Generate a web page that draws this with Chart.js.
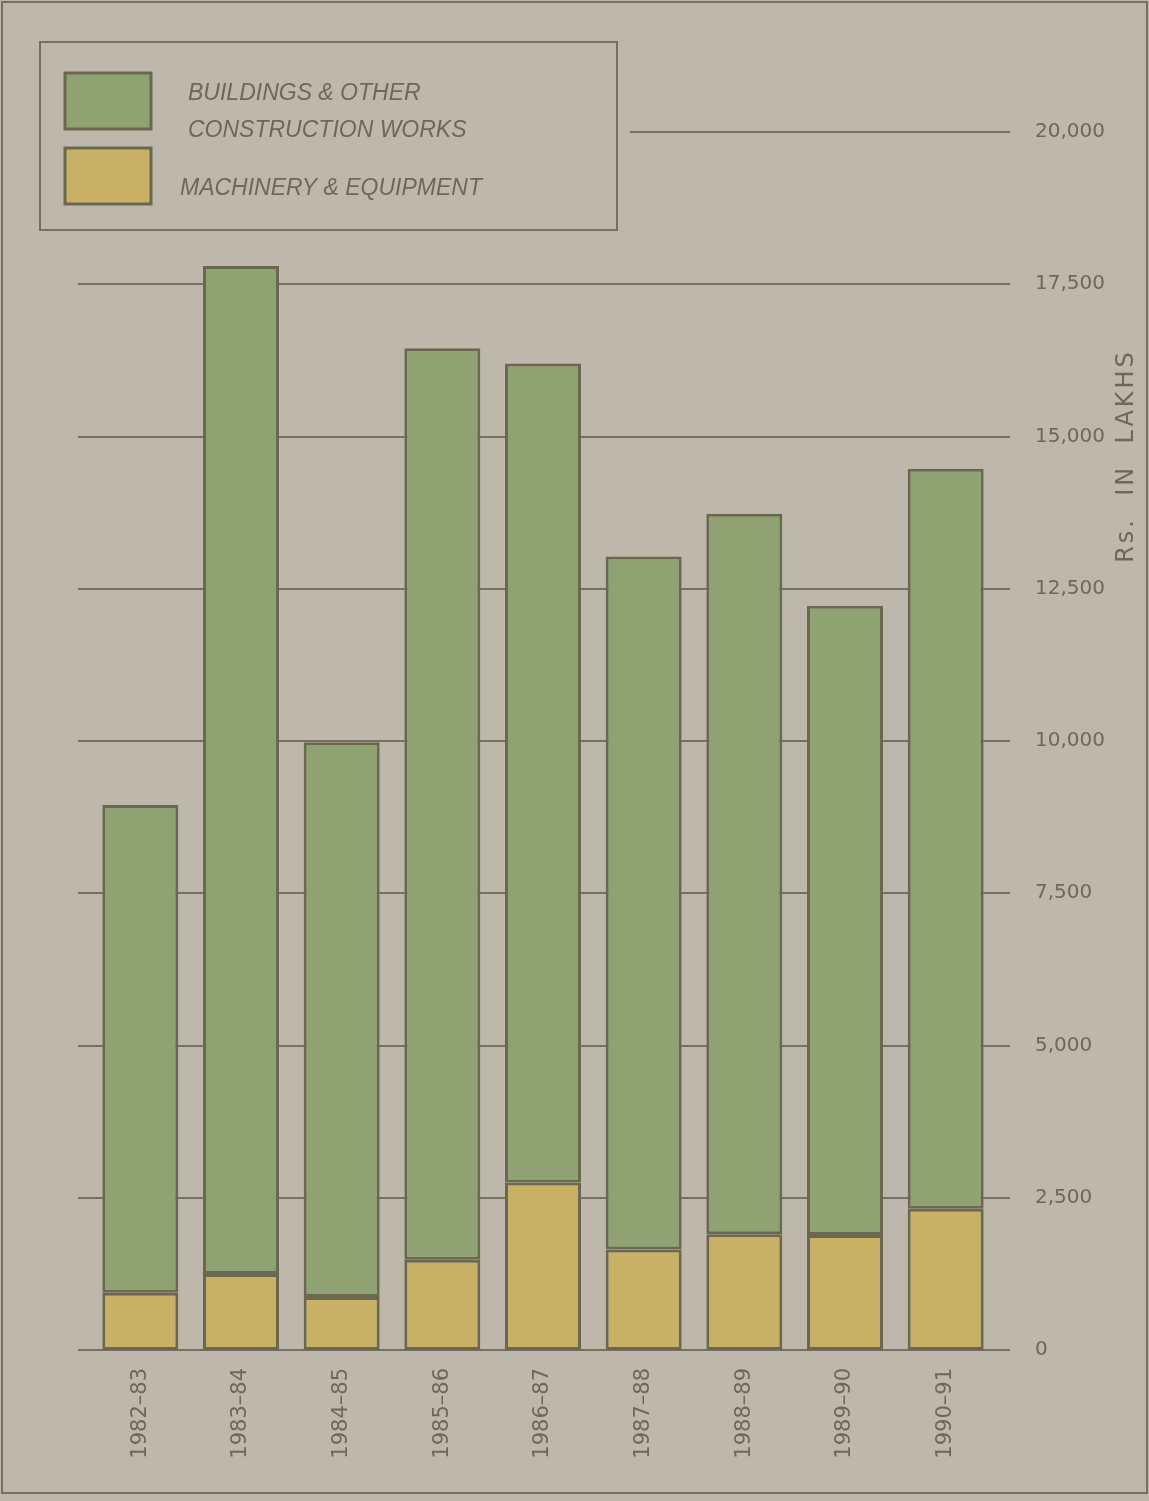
<!DOCTYPE html>
<html>
<head>
<meta charset="utf-8">
<script src="https://cdn.jsdelivr.net/npm/chart.js@4/dist/chart.umd.min.js"></script>
<style>
    body { margin: 0; background: #beb8ac; }
    #caja { width: 1149px; height: 1501px; }
</style>
</head>
<body>
<div id="caja"><canvas id="grafico" width="1149" height="1501"></canvas></div>
<script>
// Datos (Rs. en lakhs)
const anios = ["1982–83", "1983–84", "1984–85", "1985–86", "1986–87", "1987–88", "1988–89", "1989–90", "1990–91"];
const maquinaria = [940, 1250, 870, 1480, 2750, 1650, 1900, 1890, 2320];
const edificios = [8010, 16550, 9110, 14970, 13450, 11380, 11830, 10330, 12150];
const ticksY = [0, 2500, 5000, 7500, 10000, 12500, 15000, 17500, 20000];

const colorFondo = "#beb8ac";
const colorLinea = "#77705f";
const colorTexto = "#6d685a";
const colorBorde = "#6b6850";
const verde = "#8fa271";
const amarillo = "#c8b065";

// Fondo, marco y líneas de la rejilla
const fondo = {
    id: "fondo",
    beforeDraw(chart) {
        const ctx = chart.ctx;
        const y = chart.scales.y;
        ctx.save();
        ctx.fillStyle = colorFondo;
        ctx.fillRect(0, 0, chart.width, chart.height);
        ctx.strokeStyle = colorLinea;
        ctx.lineWidth = 2;
        ctx.strokeRect(2, 2, chart.width - 4, chart.height - 10);
        ticksY.forEach(v => {
            const py = Math.round(y.getPixelForValue(v));
            ctx.beginPath();
            ctx.moveTo(78, py);
            ctx.lineTo(1010, py);
            ctx.stroke();
        });
        ctx.restore();
    },
    afterDraw(chart) {
        const ctx = chart.ctx;
        ctx.save();

        // Leyenda
        ctx.fillStyle = colorFondo;
        ctx.fillRect(38, 40, 592, 192);
        ctx.strokeStyle = colorLinea;
        ctx.lineWidth = 2;
        ctx.strokeRect(40, 42, 577, 188);

        ctx.lineWidth = 3;
        ctx.strokeStyle = colorBorde;
        ctx.fillStyle = verde;
        ctx.fillRect(65, 73, 86, 56);
        ctx.strokeRect(65, 73, 86, 56);
        ctx.fillStyle = amarillo;
        ctx.fillRect(65, 148, 86, 56);
        ctx.strokeRect(65, 148, 86, 56);

        ctx.fillStyle = colorTexto;
        ctx.font = "italic 23px 'Liberation Sans'";
        ctx.textAlign = "left";
        ctx.textBaseline = "alphabetic";
        ctx.fillText(chart.data.datasets[1].label[0], 188, 100);
        ctx.fillText(chart.data.datasets[1].label[1], 188, 137);
        ctx.fillText(chart.data.datasets[0].label, 180, 195);

        // Título del eje
        ctx.translate(1127, 456);
        ctx.rotate(-Math.PI / 2);
        ctx.font = "24px 'DejaVu Sans'";
        ctx.letterSpacing = "3px";
        ctx.textAlign = "center";
        ctx.textBaseline = "middle";
        ctx.fillText("Rs.  IN  LAKHS", 0, 0);
        ctx.restore();
    }
};

new Chart(document.getElementById("grafico"), {
    type: "bar",
    data: {
        labels: anios,
        datasets: [
            {
                label: "MACHINERY & EQUIPMENT",
                data: maquinaria,
                backgroundColor: amarillo,
                borderColor: colorBorde,
                borderWidth: 3,
                borderSkipped: false
            },
            {
                label: ["BUILDINGS & OTHER", "CONSTRUCTION WORKS"],
                data: edificios,
                backgroundColor: verde,
                borderColor: colorBorde,
                borderWidth: 3,
                borderSkipped: false
            }
        ]
    },
    options: {
        responsive: false,
        animation: false,
        layout: { padding: { left: 90, top: 132, right: 0, bottom: 0 } },
        plugins: {
            legend: { display: false },
            tooltip: { enabled: false }
        },
        datasets: { bar: { barPercentage: 0.755, categoryPercentage: 1 } },
        scales: {
            x: {
                stacked: true,
                grid: { display: false },
                border: { display: false },
                ticks: {
                    minRotation: 90,
                    maxRotation: 90,
                    autoSkip: false,
                    padding: 10,
                    color: colorTexto,
                    font: { family: "DejaVu Sans", size: 21 }
                },
                afterFit: s => { s.height = 151; }
            },
            y: {
                stacked: true,
                position: "right",
                min: 0,
                max: 20000,
                grid: { display: false },
                border: { display: false },
                afterBuildTicks: s => { s.ticks = ticksY.map(v => ({ value: v })); },
                ticks: {
                    crossAlign: "near",
                    padding: 31,
                    color: colorTexto,
                    font: { family: "DejaVu Sans", size: 20 },
                    callback: v => v.toLocaleString("en-US")
                },
                afterFit: s => { s.width = 153; }
            }
        }
    },
    plugins: [fondo]
});
</script>
</body>
</html>
